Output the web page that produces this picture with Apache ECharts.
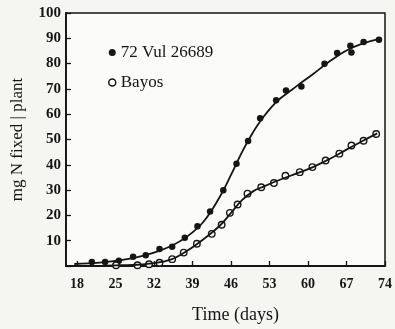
<!DOCTYPE html>
<html>
<head>
<meta charset="utf-8">
<script src="https://cdn.jsdelivr.net/npm/echarts@6/dist/echarts.min.js"></script>
<style>
  html, body { margin: 0; padding: 0; background: #f5f5f2; }
  #chart { width: 395px; height: 329px; }
</style>
</head>
<body>
<div id="chart"></div>
<script>
// Nitrogen fixed per plant over time for two bean lines.
// Measured points for each line
const vulDays   = [20.7, 23.1, 25.6, 28.2, 30.5, 33.0, 35.3, 37.6, 39.9, 42.2, 44.6, 47.0, 49.1, 51.3, 54.2, 56.0, 58.8, 63.0, 65.3, 67.7, 67.9, 70.1, 72.9];
const vulValues = [1.6, 1.6, 2.1, 3.7, 4.2, 6.7, 7.6, 11.2, 15.7, 21.5, 29.9, 40.4, 49.4, 58.4, 65.5, 69.4, 70.9, 79.9, 84.2, 87.1, 84.4, 88.5, 89.4];

const bayosDays   = [25.1, 29.0, 31.1, 33.0, 35.3, 37.4, 39.8, 42.5, 44.3, 45.8, 47.2, 49.0, 51.5, 53.8, 55.9, 58.5, 60.8, 63.2, 65.7, 67.9, 70.1, 72.4];
const bayosValues = [0.3, 0.3, 0.7, 1.3, 2.7, 5.3, 8.8, 12.7, 16.3, 21.0, 24.3, 28.6, 31.1, 32.8, 35.7, 37.1, 39.1, 41.7, 44.4, 47.6, 49.5, 52.2];

// Fitted growth curves drawn through the points
const vulFitDays   = [17.5, 20, 23, 26, 29, 32, 35, 38, 41, 44, 46, 48, 50, 51, 52, 53, 54, 55, 58, 61, 64, 67, 70, 73];
const vulFitValues = [0.8, 1.0, 1.5, 2.3, 3.5, 5.3, 7.8, 11.6, 17.5, 27.5, 36.0, 45.0, 52.8, 56.2, 59.2, 61.9, 64.3, 66.3, 71.2, 76.0, 81.0, 85.2, 88.0, 89.8];

const bayosFitDays   = [23, 26, 29, 32, 35, 38, 41, 44, 46, 48, 50, 52, 55, 58, 61, 64, 67, 70, 72.6];
const bayosFitValues = [0.1, 0.3, 0.5, 1.1, 2.5, 6.0, 10.6, 16.0, 21.0, 26.0, 29.5, 31.5, 34.2, 36.6, 39.2, 42.4, 46.0, 49.5, 52.4];

const xTicks = [18, 25, 32, 39, 46, 53, 60, 67, 74];
const seriesNames = ['72 Vul 26689', 'Bayos'];

const pair = (xs, ys) => xs.map((x, i) => [x, ys[i]]);
const ink = '#151515';
const serif = '"Liberation Serif", "DejaVu Serif", serif';
const legendText = { fontFamily: serif, fontSize: 17, color: ink, fontWeight: 'normal' };

const chart = echarts.init(document.getElementById('chart'));
chart.setOption({
  backgroundColor: '#f5f5f2',
  animation: false,
  textStyle: { fontFamily: serif },
  grid: {
    left: 66, right: 6, top: 13, bottom: 61,
    show: true, borderColor: ink, borderWidth: 1.5, backgroundColor: '#fbfbf9'
  },
  legend: {
    orient: 'vertical',
    left: 103, top: 39,
    itemWidth: 7, itemHeight: 7, itemGap: 13,
    textStyle: legendText,
    data: [
      { name: seriesNames[0], icon: 'circle', textStyle: legendText, itemStyle: { color: ink, borderWidth: 0, opacity: 1 } },
      { name: seriesNames[1], icon: 'circle', textStyle: legendText, itemStyle: { color: '#fff', borderColor: ink, borderWidth: 1.5, opacity: 1 } }
    ]
  },
  xAxis: {
    type: 'value', min: 16, max: 74,
    name: 'Time (days)', nameLocation: 'middle', nameGap: 40,
    nameTextStyle: { fontFamily: serif, fontSize: 18, color: ink, padding: [0, 0, 0, 20] },
    axisLine: { show: true, lineStyle: { color: ink, width: 1.8 } },
    axisTick: { show: true, inside: true, length: 5, customValues: xTicks, lineStyle: { color: ink, width: 1.3 } },
    axisLabel: { customValues: xTicks, margin: 11, fontFamily: serif, fontWeight: 'bold', fontSize: 14, color: ink },
    splitLine: { show: false }
  },
  yAxis: {
    type: 'value', min: 0, max: 100, interval: 10,
    name: 'mg N fixed | plant', nameLocation: 'middle', nameGap: 40,
    nameTextStyle: { fontFamily: serif, fontSize: 17, color: ink },
    axisLine: { show: true, lineStyle: { color: ink, width: 1.8 } },
    axisTick: { show: true, inside: true, length: 5, lineStyle: { color: ink, width: 1.3 } },
    axisLabel: {
      margin: 5, fontFamily: serif, fontWeight: 'bold', fontSize: 15, color: ink,
      formatter: v => (v === 0 ? '' : String(v))
    },
    splitLine: { show: false }
  },
  series: [
    {
      name: 'vulFit', type: 'line', smooth: 0.4, showSymbol: false, silent: true,
      data: pair(vulFitDays, vulFitValues),
      lineStyle: { color: ink, width: 1.8 }
    },
    {
      name: 'bayosFit', type: 'line', smooth: 0.4, showSymbol: false, silent: true,
      data: pair(bayosFitDays, bayosFitValues),
      lineStyle: { color: ink, width: 1.8 }
    },
    {
      name: seriesNames[0], type: 'scatter',
      data: pair(vulDays, vulValues),
      symbol: 'circle', symbolSize: 6.5,
      itemStyle: { color: ink, opacity: 1 }
    },
    {
      name: seriesNames[1], type: 'scatter',
      data: pair(bayosDays, bayosValues),
      symbol: 'circle', symbolSize: 6.5,
      itemStyle: { color: '#fff', borderColor: ink, borderWidth: 1.4, opacity: 1 }
    }
  ]
});
</script>
</body>
</html>
